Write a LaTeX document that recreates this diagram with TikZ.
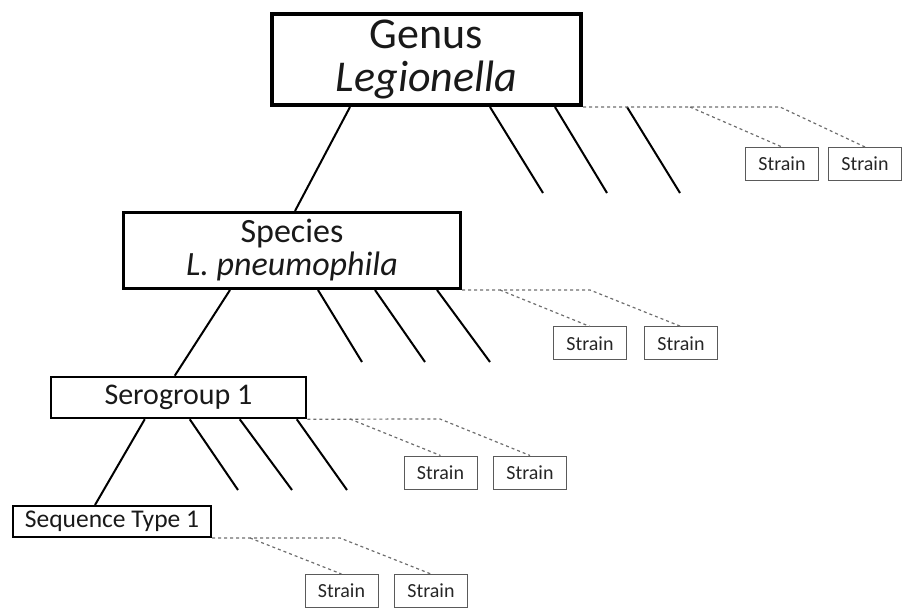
\documentclass[tikz,border=0pt]{standalone}
\usepackage{fontspec}
\setmainfont{Carlito}
\definecolor{dashgray}{HTML}{6e6e6e}
\definecolor{boxgray}{HTML}{5a5a5a}

\begin{document}
\begin{tikzpicture}[x = 1pt, y = -1pt,
        genusbox/.style = {draw, line width = 4pt, minimum width = 309pt, minimum height = 91pt, align = center, text = black!90, font = \fontsize{44}{43}\selectfont},
        speciesbox/.style = {draw, line width = 3pt, minimum width = 337pt, minimum height = 76pt, align = center, text = black!90, font = \fontsize{34}{33}\selectfont},
        serobox/.style = {draw, line width = 2.5pt, minimum width = 255pt, minimum height = 41pt, text = black!90, font = \fontsize{30}{32}\selectfont},
        seqbox/.style = {draw, line width = 2pt, minimum width = 198pt, minimum height = 31pt, text = black!90, font = \fontsize{25.5}{28}\selectfont},
        strainbox/.style = {draw = boxgray, line width = 1pt, minimum width = 73pt, minimum height = 33pt, text = black!85, font = \fontsize{20}{22}\selectfont},
        branch/.style = {line width = 2pt},
        strainline/.style = {draw = dashgray, dashed, line width = 1.2pt}]
        \useasboundingbox (0, 0) rectangle (902, 609);

        % Nodes
        \node [genusbox] (genus) at (426.5, 59.5) {Genus\\\textit{Legionella}};
        \node [speciesbox] (species) at (292, 250.5) {Species\\\textit{L. pneumophila}};
        \node [serobox] (sero) at (178.5, 397.5) {Serogroup 1};
        \node [seqbox] (seq) at (112, 521.5) {Sequence Type 1};

        % Strains
        \node [strainbox] (gs1) at (782, 164) {Strain};
        \node [strainbox] (gs2) at (865, 164) {Strain};
        \node [strainbox] (ss1) at (590, 343.5) {Strain};
        \node [strainbox] (ss2) at (681, 343.5) {Strain};
        \node [strainbox] (rs1) at (440.5, 472.5) {Strain};
        \node [strainbox] (rs2) at (530, 472.5) {Strain};
        \node [strainbox] (ts1) at (341.5, 591) {Strain};
        \node [strainbox] (ts2) at (431, 591) {Strain};

        % Free ends
        \coordinate (g1) at (543, 193);
        \coordinate (g2) at (607, 193);
        \coordinate (g3) at (680, 193);
        \coordinate (s1) at (362, 362);
        \coordinate (s2) at (425, 362);
        \coordinate (s3) at (490, 362);
        \coordinate (r1) at (238, 490);
        \coordinate (r2) at (292, 490);
        \coordinate (r3) at (347, 490);
        \coordinate (gd1) at (690, 107);
        \coordinate (gd2) at (780, 107);
        \coordinate (sd1) at (500, 290);
        \coordinate (sd2) at (590, 290);
        \coordinate (rd1) at (350, 419);
        \coordinate (rd2) at (440, 419);
        \coordinate (td1) at (250, 538);
        \coordinate (td2) at (340, 538);

        % Lines
        \draw [branch] ([xshift = 80pt]genus.south west) -- ([xshift = 173pt]species.north west);
        \draw [branch] ([xshift = 220pt]genus.south west) -- (g1);
        \draw [branch] ([xshift = 285pt]genus.south west) -- (g2);
        \draw [branch] ([xshift = 357pt]genus.south west) -- (g3);
        \draw [branch] ([xshift = 108pt]species.south west) -- ([xshift = 125pt]sero.north west);
        \draw [branch] ([xshift = 196pt]species.south west) -- (s1);
        \draw [branch] ([xshift = 253pt]species.south west) -- (s2);
        \draw [branch] ([xshift = 315pt]species.south west) -- (s3);
        \draw [branch] ([xshift = 95pt]sero.south west) -- ([xshift = 83pt]seq.north west);
        \draw [branch] ([xshift = 140pt]sero.south west) -- (r1);
        \draw [branch] ([xshift = 190pt]sero.south west) -- (r2);
        \draw [branch] ([xshift = 247pt]sero.south west) -- (r3);

        % Strain links
        \draw [strainline] (genus.south east) -- (gd2) -- (gs2.north);
        \draw [strainline] (gd1) -- (gs1.north);
        \draw [strainline] (species.south east) -- (sd2) -- (ss2.north);
        \draw [strainline] (sd1) -- (ss1.north);
        \draw [strainline] (sero.south east) -- (rd2) -- (rs2.north);
        \draw [strainline] (rd1) -- (rs1.north);
        \draw [strainline] (seq.south east) -- (td2) -- (ts2.north);
        \draw [strainline] (td1) -- (ts1.north);

    \end{tikzpicture}
\end{document}
